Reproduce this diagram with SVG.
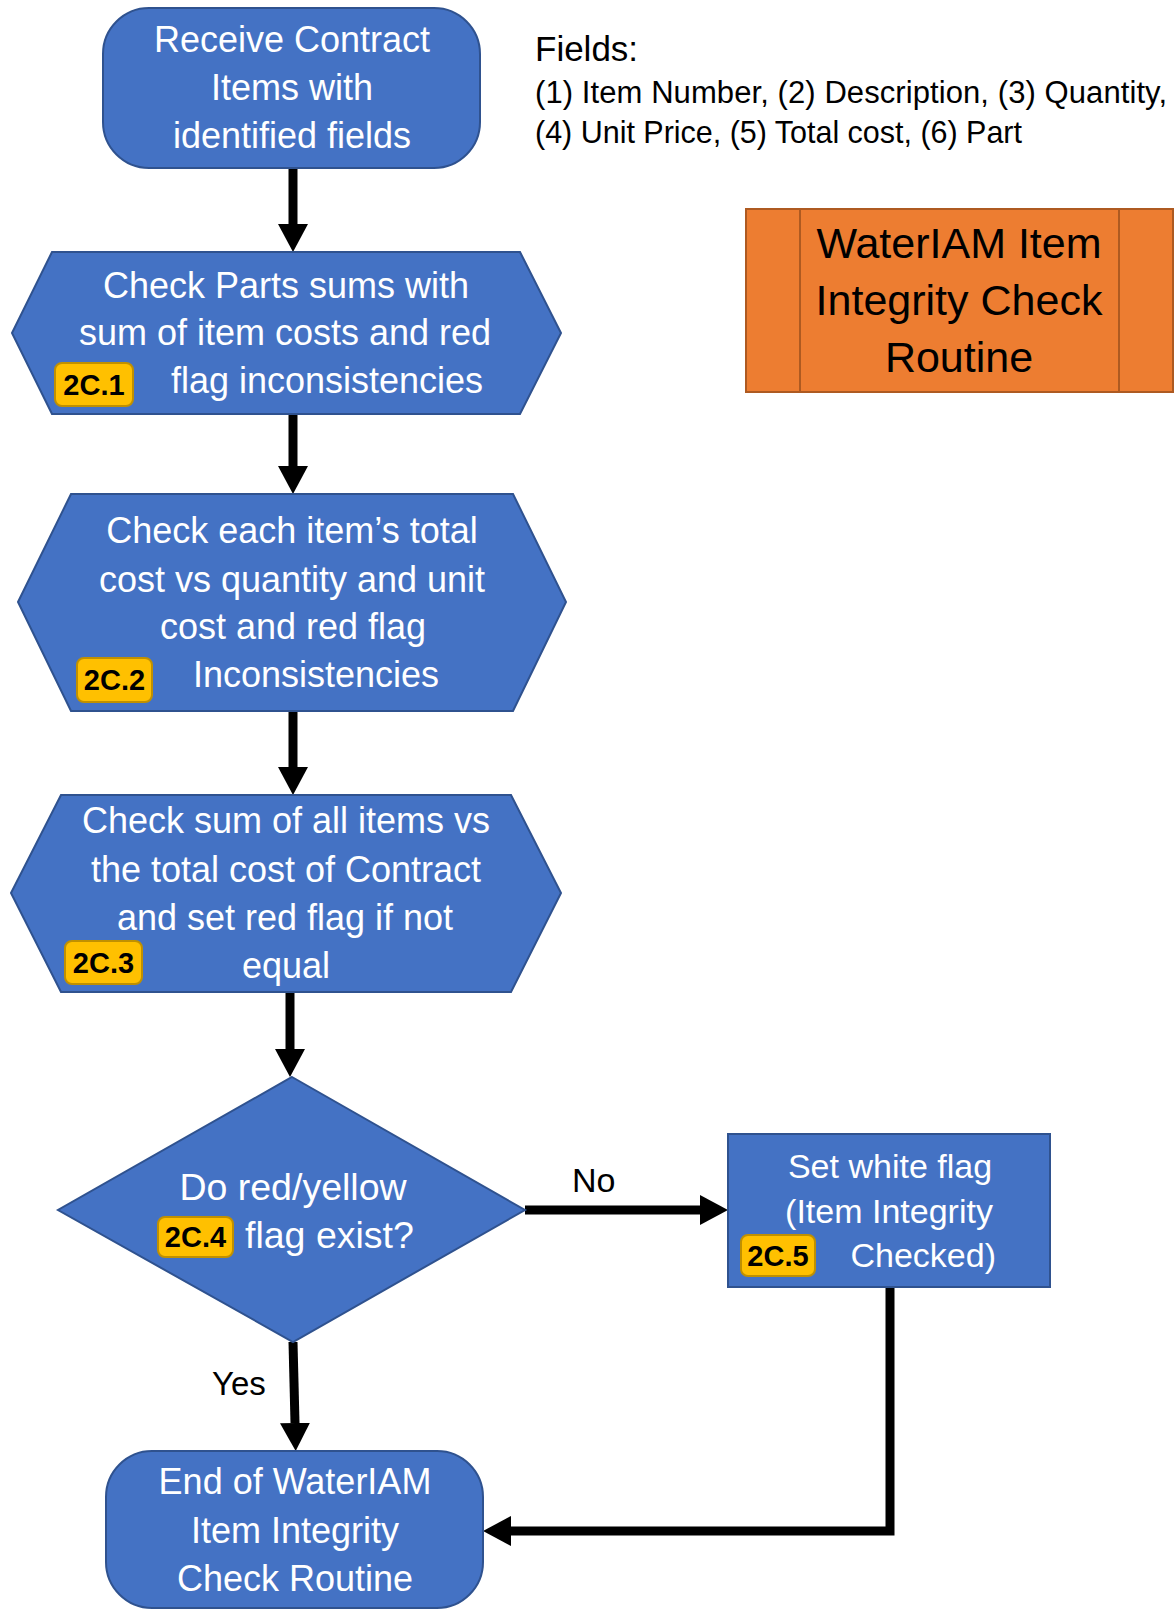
<svg xmlns="http://www.w3.org/2000/svg" width="1175" height="1616" viewBox="0 0 1175 1616">
<defs>
<style>
.node{fill:#4472C4;stroke:#2F528F;stroke-width:2}
.nt{font-family:"Liberation Sans",Arial,sans-serif;font-size:36px;fill:#ffffff;text-anchor:middle}
.nt34{font-family:"Liberation Sans",Arial,sans-serif;font-size:34px;fill:#ffffff;text-anchor:middle}
.badge{fill:#FFC000;stroke:#C09000;stroke-width:2}
.bt{font-family:"Liberation Sans",Arial,sans-serif;font-size:29px;font-weight:bold;fill:#000;text-anchor:middle}
.lbl{font-family:"Liberation Sans",Arial,sans-serif;font-size:30px;fill:#000}
.conn{fill:none;stroke:#000;stroke-width:9;marker-end:url(#ah)}
.orange{fill:#ED7D31;stroke:#AE5A21;stroke-width:2}
.ot{font-family:"Liberation Sans",Arial,sans-serif;font-size:43px;fill:#000;text-anchor:middle}
</style>
<marker id="ah" markerUnits="userSpaceOnUse" markerWidth="28" markerHeight="30" refX="0" refY="15" orient="auto">
<path d="M0,0 L28,15 L0,30 Z" fill="#000"/>
</marker>
</defs>
<rect width="1175" height="1616" fill="#ffffff"/>

<g id="connectors">
<path class="conn" d="M293,168 V224"/>
<path class="conn" d="M293,414 V466"/>
<path class="conn" d="M293,711 V767"/>
<path class="conn" d="M290,992 V1049"/>
<path class="conn" d="M293,1342 L295,1423"/>
<path class="conn" d="M525,1210 H700"/>
<path class="conn" d="M890,1287 V1531 H511"/>
</g>

<g id="fields">
<text class="lbl" x="535" y="61" style="font-size:35px">Fields:</text>
<text class="lbl" x="535" y="103" style="font-size:31px" textLength="632">(1) Item Number, (2) Description, (3) Quantity,</text>
<text class="lbl" x="535" y="143" style="font-size:30.5px" textLength="487">(4) Unit Price, (5) Total cost, (6) Part</text>
</g>

<g id="title">
<rect class="orange" x="746" y="209" width="427" height="183"/>
<line x1="800" y1="209" x2="800" y2="392" stroke="#AE5A21" stroke-width="2"/>
<line x1="1119" y1="209" x2="1119" y2="392" stroke="#AE5A21" stroke-width="2"/>
<text class="ot" x="959" y="258">WaterIAM Item</text>
<text class="ot" x="959" y="315">Integrity Check</text>
<text class="ot" x="959" y="372">Routine</text>
</g>

<g id="start">
<rect class="node" x="103" y="8" width="377" height="160" rx="46"/>
<text class="nt" x="292" y="52">Receive Contract</text>
<text class="nt" x="292" y="100">Items with</text>
<text class="nt" x="292" y="148">identified fields</text>
</g>

<g id="n2c1">
<polygon class="node" points="12,333 52,252 520,252 561,333 520,414 52,414"/>
<text class="nt" x="286" y="298">Check Parts sums with</text>
<text class="nt" x="285" y="345">sum of item costs and red</text>
<text class="nt" x="327" y="393">flag inconsistencies</text>
<rect class="badge" x="55" y="363" width="78" height="43" rx="7"/>
<text class="bt" x="94" y="395">2C.1</text>
</g>

<g id="n2c2">
<polygon class="node" points="18,602 71,494 513,494 566,602 513,711 71,711"/>
<text class="nt" x="292" y="543">Check each item’s total</text>
<text class="nt" x="292" y="592">cost vs quantity and unit</text>
<text class="nt" x="293" y="639">cost and red flag</text>
<text class="nt" x="316" y="687">Inconsistencies</text>
<rect class="badge" x="77" y="658" width="75" height="44" rx="7"/>
<text class="bt" x="114.5" y="690">2C.2</text>
</g>

<g id="n2c3">
<polygon class="node" points="11,893 61,795 511,795 561,893 511,992 61,992"/>
<text class="nt" x="286" y="833">Check sum of all items vs</text>
<text class="nt" x="286" y="882">the total cost of Contract</text>
<text class="nt" x="285" y="930">and set red flag if not</text>
<text class="nt" x="286" y="978">equal</text>
<rect class="badge" x="65" y="941" width="77" height="43" rx="7"/>
<text class="bt" x="103.5" y="973">2C.3</text>
</g>

<g id="n2c4">
<polygon class="node" points="292,1077 525,1210 293,1342 58,1210"/>
<text class="nt" x="293" y="1200" style="font-size:37.5px">Do red/yellow</text>
<text class="nt" x="245" y="1248" style="font-size:37.5px;text-anchor:start">flag exist?</text>
<rect class="badge" x="158" y="1217" width="75" height="40" rx="7"/>
<text class="bt" x="195.5" y="1247">2C.4</text>
</g>

<g id="n2c5">
<rect class="node" x="728" y="1134" width="322" height="153"/>
<text class="nt34" x="890" y="1178">Set white flag</text>
<text class="nt34" x="889" y="1223">(Item Integrity</text>
<text class="nt34" x="996" y="1267" style="text-anchor:end">Checked)</text>
<rect class="badge" x="741" y="1235" width="74" height="41" rx="7"/>
<text class="bt" x="778" y="1266">2C.5</text>
</g>

<g id="end">
<rect class="node" x="106" y="1451" width="377" height="157" rx="46"/>
<text class="nt" x="295" y="1494">End of WaterIAM</text>
<text class="nt" x="295" y="1543">Item Integrity</text>
<text class="nt" x="295" y="1591">Check Routine</text>
</g>

<g id="labels">
<text class="lbl" x="572" y="1192" style="font-size:34px">No</text>
<text class="lbl" x="212" y="1395" style="font-size:33px">Yes</text>
</g>
</svg>
